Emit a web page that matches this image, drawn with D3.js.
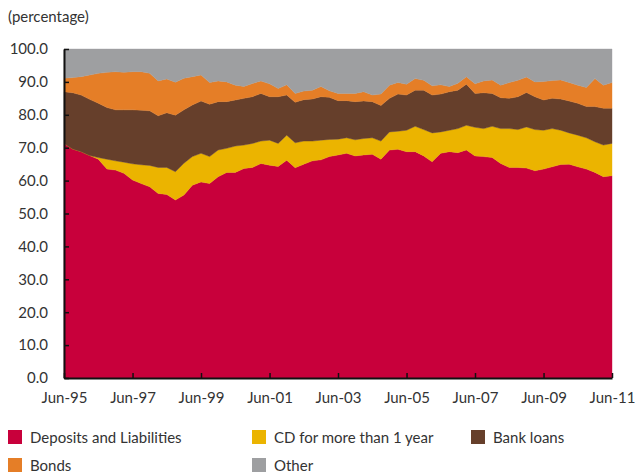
<!DOCTYPE html>
<html><head><meta charset="utf-8">
<script src="https://cdn.jsdelivr.net/npm/d3@7"></script>
<style>
body{margin:0;background:#fff;}
svg text{font-family:Lato,"Open Sans",sans-serif;fill:#333;}
</style></head>
<body><svg id="c" width="635" height="476"></svg>
<script>
// Quarterly observations, Jun-95 .. Jun-11 (percentage of total)
const startDate = "1995-06";
const stepMonths = 3;
const deposits = [71.3,69.6,68.8,67.6,66.5,63.5,63.2,62.2,60.2,59.1,58.1,56.1,55.8,54.1,55.6,58.6,59.6,59.1,61.2,62.5,62.5,63.7,64.0,65.2,64.7,64.3,66.2,63.9,65.0,66.0,66.3,67.3,67.8,68.3,67.5,67.8,68.0,66.5,69.3,69.5,68.8,68.8,67.5,65.7,68.3,68.8,68.5,69.3,67.5,67.3,67.0,65.2,64.0,64.0,63.8,63.0,63.5,64.2,64.9,65.0,64.2,63.5,62.5,61.2,61.5];
const cdOver1y = [0,0,0,0,0.5,3.0,2.8,3.4,4.9,5.7,6.5,7.9,8.2,8.6,9.7,8.7,8.7,8.2,8.1,7.3,8.0,7.1,7.3,6.8,7.6,7.0,7.6,7.6,7.0,6.0,6.0,5.2,4.8,4.7,4.9,5.0,5.0,5.5,5.5,5.5,6.5,7.7,8.0,8.8,6.5,6.5,7.3,7.5,8.7,8.5,9.5,10.6,11.8,11.5,12.5,12.5,11.8,11.6,10.4,9.5,9.6,9.5,9.3,9.6,9.8];
const bankLoans = [15.7,17.1,17.2,17.1,16.5,15.7,15.5,15.9,16.4,16.6,16.6,15.7,16.6,17.2,16.2,15.7,15.9,15.9,14.7,14.2,14.0,14.2,14.2,14.5,13.2,14.2,12.2,12.3,12.6,12.8,13.2,12.8,11.7,11.3,11.6,11.4,11.0,10.8,10.2,11.3,10.7,11.0,12.0,11.5,11.5,11.7,11.7,12.5,10.3,10.9,10.0,9.4,9.2,10.0,10.5,10.0,9.2,9.2,9.5,9.7,9.7,9.5,10.7,11.2,10.7];
const bonds = [4.1,4.6,5.6,7.4,9.1,10.7,11.6,11.4,11.6,11.7,11.4,10.6,10.3,10.0,9.6,8.6,7.9,6.6,6.3,6.0,4.5,3.6,4.0,3.8,3.9,2.5,3.1,2.7,2.6,2.7,3.1,2.0,2.2,2.2,2.5,2.8,2.0,3.5,4.0,3.5,3.3,3.5,3.0,2.8,2.8,1.6,2.1,2.3,2.9,3.6,4.1,3.8,4.8,5.0,4.7,4.5,5.6,5.4,5.8,5.6,5.5,5.8,8.5,7.0,7.8];
const other = [8.9,8.7,8.4,7.9,7.4,7.1,6.9,7.1,6.9,6.9,7.4,9.7,9.1,10.1,8.9,8.4,7.9,10.2,9.7,10.0,11.0,11.4,10.5,9.7,10.6,12.0,10.9,13.5,12.8,12.5,11.4,12.7,13.5,13.5,13.5,13.0,14.0,13.7,11.0,10.2,10.7,9.0,9.5,11.2,10.9,11.4,10.4,8.4,10.6,9.7,9.4,11.0,10.2,9.5,8.5,10.0,9.9,9.6,9.4,10.2,11.0,11.7,9.0,11.0,10.2];
const seriesNames = ["Deposits and Liabilities","CD for more than 1 year","Bank loans","Bonds","Other"];
const seriesColors = ["#C8003B","#EBB400","#663F2B","#E57E27","#9E9FA1"];
const xTickLabels = ["Jun-95","Jun-97","Jun-99","Jun-01","Jun-03","Jun-05","Jun-07","Jun-09","Jun-11"];
const yTicks = [0,10,20,30,40,50,60,70,80,90,100];

const parseM = d3.timeParse("%Y-%m");
const parseTick = d3.timeParse("%b-%y");
const t0 = parseM(startDate);
const seriesArrays = [deposits, cdOver1y, bankLoans, bonds, other];
const table = deposits.map((_, i) => {
  const row = {date: d3.timeMonth.offset(t0, i * stepMonths)};
  seriesNames.forEach((n, k) => row[n] = seriesArrays[k][i]);
  return row;
});

const FS = 15;
const svg = d3.select("#c");
const x = d3.scaleTime().domain([t0, parseTick("Jun-11")]).range([64, 612]);
const y = d3.scaleLinear().domain([0, 100]).range([378, 49]);
const color = d3.scaleOrdinal().domain(seriesNames).range(seriesColors);

const stacked = d3.stack().keys(seriesNames)(table);
const area = d3.area().x(d => x(d.data.date)).y0(d => y(d[0])).y1(d => y(d[1]));

svg.append("g").selectAll("path").data(stacked).join("path")
  .attr("d", area).attr("fill", d => color(d.key))
  .attr("stroke", d => color(d.key)).attr("stroke-width", 0.4);

const yAxis = svg.append("g").attr("transform", "translate(64,0)")
  .call(d3.axisLeft(y).tickValues(yTicks).tickFormat(d3.format(".1f"))
    .tickSizeInner(-5).tickSizeOuter(0).tickPadding(16));
const xAxis = svg.append("g").attr("transform", "translate(0,378)")
  .call(d3.axisBottom(x).tickValues(xTickLabels.map(parseTick)).tickFormat(d3.timeFormat("%b-%y"))
    .tickSizeInner(-5).tickSizeOuter(0).tickPadding(14));
[yAxis, xAxis].forEach(g => {
  g.selectAll("text").attr("font-size", FS).attr("font-family", "Lato, sans-serif").attr("fill", "#333");
  g.select(".domain").attr("stroke", "#111").attr("stroke-width", 2);
  g.selectAll(".tick line").attr("stroke", "#111").attr("stroke-width", 1.5);
});

svg.append("text").attr("x", 8).attr("y", 22).attr("font-size", FS).text("(percentage)");

const legendPos = [[8,430],[252,430],[471,430],[8,458],[252,458]];
const lg = svg.append("g").selectAll("g").data(seriesNames).join("g")
  .attr("transform", (d, i) => `translate(${legendPos[i][0]},${legendPos[i][1]})`);
lg.append("rect").attr("width", 14).attr("height", 14).attr("fill", d => color(d));
lg.append("text").attr("x", 22).attr("y", 13).attr("font-size", FS).text(d => d);
</script></body></html>
